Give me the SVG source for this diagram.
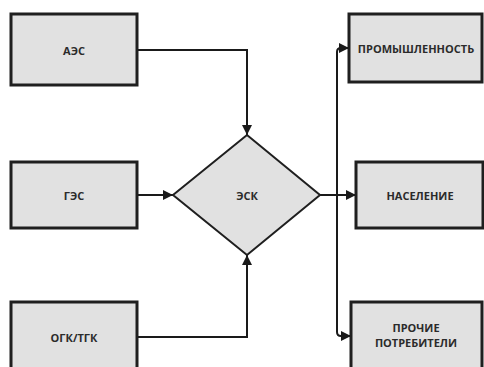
<svg xmlns="http://www.w3.org/2000/svg" width="484" height="367" viewBox="0 0 484 367">
<defs>
<marker id="arr" viewBox="0 0 10 10" refX="10" refY="5" markerWidth="5" markerHeight="5" orient="auto" markerUnits="strokeWidth">
<path d="M0,0 L10,5 L0,10 Z" fill="#1a1a1a"/>
</marker>
<style>
.box{fill:#e1e1e1;stroke:#1f1f1f;stroke-width:3}
.dia{fill:#e1e1e1;stroke:#1f1f1f;stroke-width:2}
.ln{fill:none;stroke:#1a1a1a;stroke-width:2;marker-end:url(#arr)}
.t{font-family:"Open Sans","DejaVu Sans",sans-serif;font-weight:bold;font-size:11px;fill:#2b2b2b;text-anchor:middle;dominant-baseline:central}
</style>
</defs>
<rect width="484" height="367" fill="#fff"/>
<g id="connectors">
<path class="ln" d="M137,50 H247 V135"/>
<path class="ln" d="M137,195 H173"/>
<path class="ln" d="M137,337 H247 V255"/>
<path class="ln" d="M320,195 H356"/>
<path class="ln" d="M337,195 V52 Q337,48 341,48 H349"/>
<path class="ln" d="M337,195 V332 Q337,336 341,336 H351"/>
</g>
<g id="aes"><rect class="box" x="11" y="14" width="126" height="71"/><text class="t" x="74" y="50">АЭС</text></g>
<g id="ges"><rect class="box" x="11" y="162" width="126" height="66"/><text class="t" x="74" y="195">ГЭС</text></g>
<g id="ogk"><rect class="box" x="11" y="302" width="126" height="80"/><text class="t" x="74" y="337">ОГК/ТГК</text></g>
<g id="esk"><polygon class="dia" points="173,195 247,135 320,195 247,255"/><text class="t" x="247" y="195">ЭСК</text></g>
<g id="prom"><rect class="box" x="349" y="14" width="133" height="68"/><text class="t" x="416" y="48">ПРОМЫШЛЕННОСТЬ</text></g>
<g id="nas"><rect class="box" x="356" y="162" width="127" height="66"/><text class="t" x="420" y="195">НАСЕЛЕНИЕ</text></g>
<g id="proch"><rect class="box" x="351" y="302" width="131" height="80"/><text class="t" x="416" y="327">ПРОЧИЕ</text><text class="t" x="416" y="342">ПОТРЕБИТЕЛИ</text></g>
</svg>
